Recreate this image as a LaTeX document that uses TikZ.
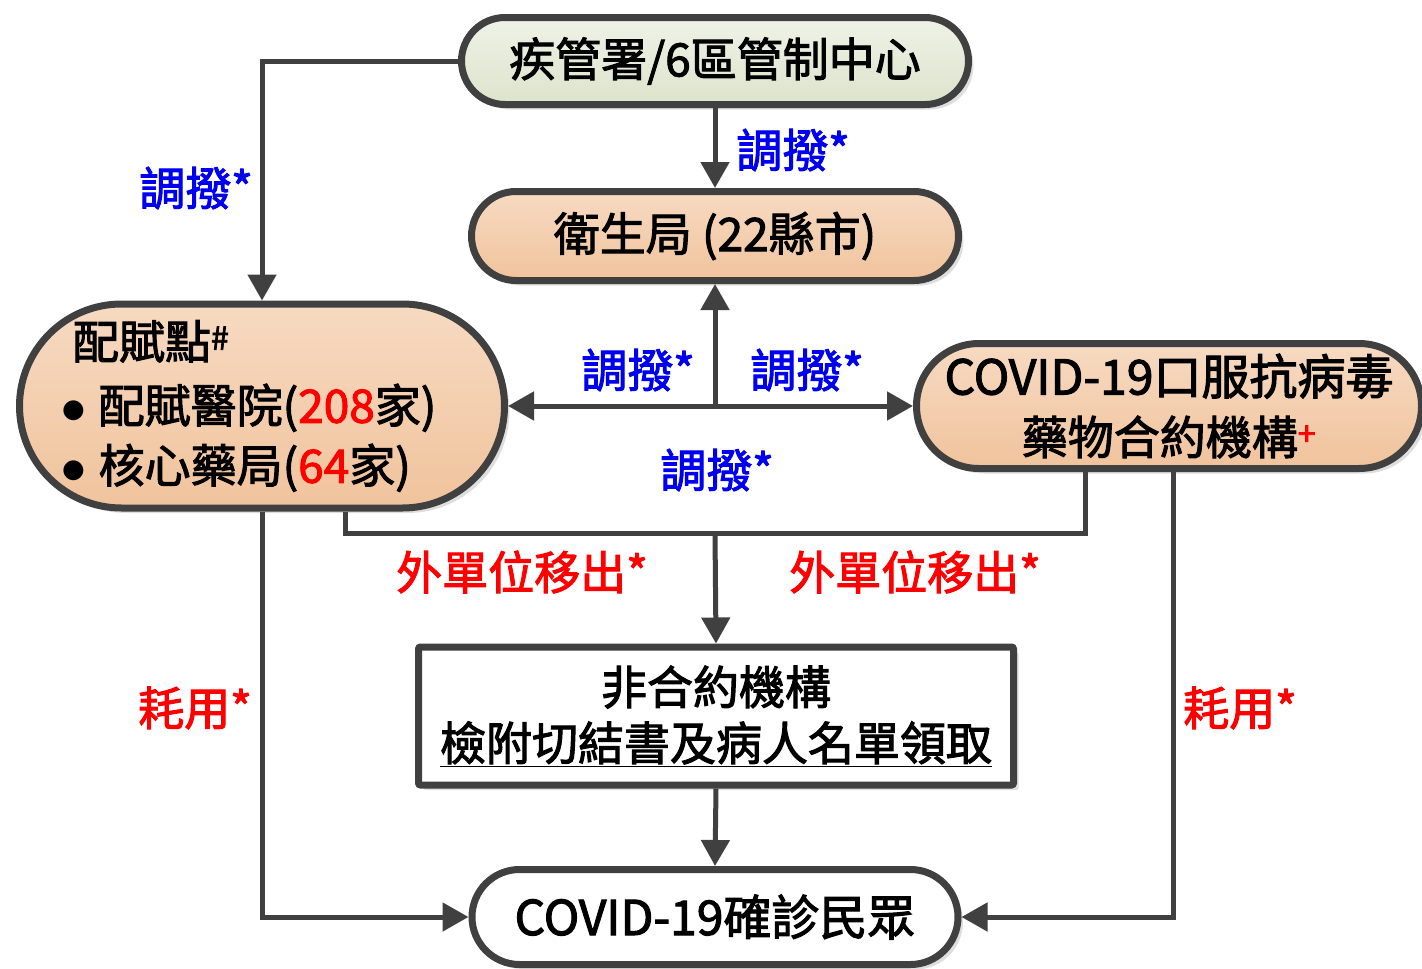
\documentclass[tikz,border=0pt]{standalone}
\usepackage{fontspec}
\setmainfont{Noto Sans CJK TC}[FakeBold=2.2]
\newfontfamily\dotfont{DejaVu Sans}
\usetikzlibrary{arrows.meta,shadows}
\definecolor{edgegray}{HTML}{404040}
\definecolor{greentop}{HTML}{EFF2E6}
\definecolor{greenbot}{HTML}{DDE3CC}
\definecolor{peachtop}{HTML}{F7DAC2}
\definecolor{peachbot}{HTML}{F0C39C}
\definecolor{lblblue}{HTML}{0000F0}
\definecolor{lblred}{HTML}{FF0000}
\newcommand\chartfont{\fontsize{46}{60}\selectfont}
\newcommand\listdot{\raisebox{5pt}{\dotfont\fontsize{26}{26}\selectfont ●}}
\tikzset{
  box/.style={draw=edgegray, line width=7pt, inner sep=0pt, align=center, font=\chartfont,
    drop shadow={shadow xshift=5pt, shadow yshift=-5pt, fill=black!13, opacity=1}},
  pill/.style={box, rounded corners=#1},
  greenfill/.style={top color=greentop, bottom color=greenbot},
  peachfill/.style={top color=peachtop, bottom color=peachbot},
  link/.style={draw=edgegray, line width=5pt},
  arr/.style={link, -{Triangle[length=26pt,width=28pt]}},
  bluelbl/.style={font=\chartfont, text=lblblue, inner sep=0pt},
  redlbl/.style={font=\chartfont, text=lblred, inner sep=0pt}
}
\begin{document}
\begin{tikzpicture}[x=1pt, y=-1pt]
      \useasboundingbox (0,0) rectangle (1422,969);
      \node[pill=43.5, greenfill, minimum width=507, minimum height=87] (cdc) at (715,61) {疾管署/6區管制中心};
      \node[pill=44.5, peachfill, minimum width=487, minimum height=89] (wsj) at (715,236) {衛生局 (22縣市)};
      \node[pill=102, peachfill, minimum width=485, minimum height=204, align=left, text width=400] (pts) at (262,406)
        {\hspace*{11pt}配賦點\textsuperscript{\#}\\[4pt]
         \listdot\hspace{14pt}配賦醫院(\textcolor{lblred}{208}家)\\
         \listdot\hspace{14pt}核心藥局(\textcolor{lblred}{64}家)};
      \node[pill=62.5, peachfill, minimum width=505, minimum height=125] (ctr) at (1169,406)
        {\fontsize{48}{61}\selectfont COVID-19口服抗病毒\\藥物合約機構\textsuperscript{\textcolor{lblred}{+}}};
      \node[box, fill=white, rounded corners=2, minimum width=595, minimum height=138] (non) at (716,716)
        {非合約機構\\[-4pt]\underline{檢附切結書及病人名單領取}};
      \node[pill=47.5, fill=white, minimum width=486, minimum height=95, font=\fontsize{48}{60}\selectfont] (pat) at (715,917) {COVID-19確診民眾};
      \coordinate (hubc) at (715,406);
      \coordinate (o1) at (345,533);
      \coordinate (o2) at (1085,533);
      \coordinate (o3) at (715,533);
      \coordinate (u2) at (1173,700);
      \begin{scope}
        \draw[arr] (cdc.west) -| (pts.north);
        \draw[arr] (cdc.south) -- (wsj.north);
        \draw[arr] (hubc) -- (wsj.south);
        \draw[arr] (hubc) -- (pts.east);
        \draw[arr] (hubc) -- (ctr.west);
        \draw[link] (pts.south -| o1) |- (o2) -- (ctr.south -| o2);
        \draw[arr] (o3) -- (non.north);
        \draw[arr] (non.south) -- (pat.north);
        \draw[arr] (pts.south) |- (pat.west);
        \draw[arr] (ctr.south -| u2) |- (pat.east);
      \end{scope}
      \node[bluelbl] (t1) at (196,188) {調撥*};
      \node[bluelbl] (t2) at (793,150) {調撥*};
      \node[bluelbl] (t3) at (638,370) {調撥*};
      \node[bluelbl] (t4) at (807,370) {調撥*};
      \node[bluelbl] (t5) at (717,470) {調撥*};
      \node[redlbl] (m1) at (522,572) {外單位移出*};
      \node[redlbl] (m2) at (915,572) {外單位移出*};
      \node[redlbl] (h1) at (195,708) {耗用*};
      \node[redlbl] (h2) at (1240,708) {耗用*};
    \end{tikzpicture}
\end{document}
